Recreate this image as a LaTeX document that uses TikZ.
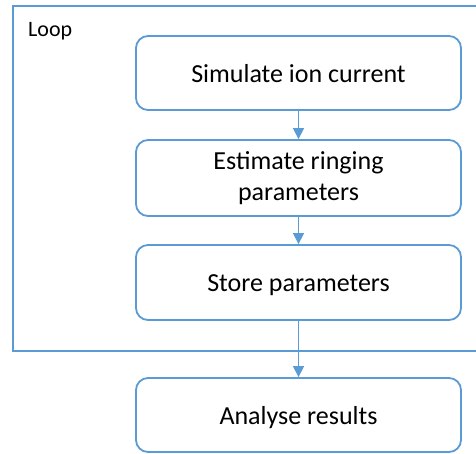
\documentclass[tikz,border=0pt]{standalone}
\usepackage{fontspec}
\setmainfont{Carlito}
\usetikzlibrary{arrows.meta}
\definecolor{obl}{RGB}{91,155,213}
\begin{document}
\begin{tikzpicture}[x=1pt,y=-1pt,
  stepbox/.style={draw=obl,line width=1.8pt,rounded corners=12pt,minimum width=325pt,inner sep=0pt,align=center,font=\fontsize{26}{31}\selectfont,text=black},
  oneline/.style={text height=18pt,text depth=0pt},
  conn/.style={draw=obl,line width=1.3pt,-{Triangle[width=11pt,length=11pt]}}]
\useasboundingbox (0,0) rectangle (476,453);
\fill[white] (0,0) rectangle (476,453);
\node[draw=obl,line width=1.8pt,minimum width=470pt,minimum height=345pt,anchor=north west,inner sep=0pt] (loop) at (12,5) {};
\node[anchor=base west,font=\fontsize{22}{26}\selectfont,inner sep=0pt] (looplabel) at (28,36) {Loop};
\node[stepbox,oneline,minimum height=74pt] (sim) at (298.5,73) {Simulate ion current};
\node[stepbox,minimum height=76pt] (est) at (298.5,178) {Estimate ringing\\parameters};
\node[stepbox,oneline,minimum height=75pt] (store) at (298.5,282.5) {Store parameters};
\node[stepbox,oneline,minimum height=74pt] (ana) at (298.5,415) {Analyse results};
\draw[conn] (sim) -- (est);
\draw[conn] (est) -- (store);
\draw[conn] (store) -- (ana);
\end{tikzpicture}
\end{document}
